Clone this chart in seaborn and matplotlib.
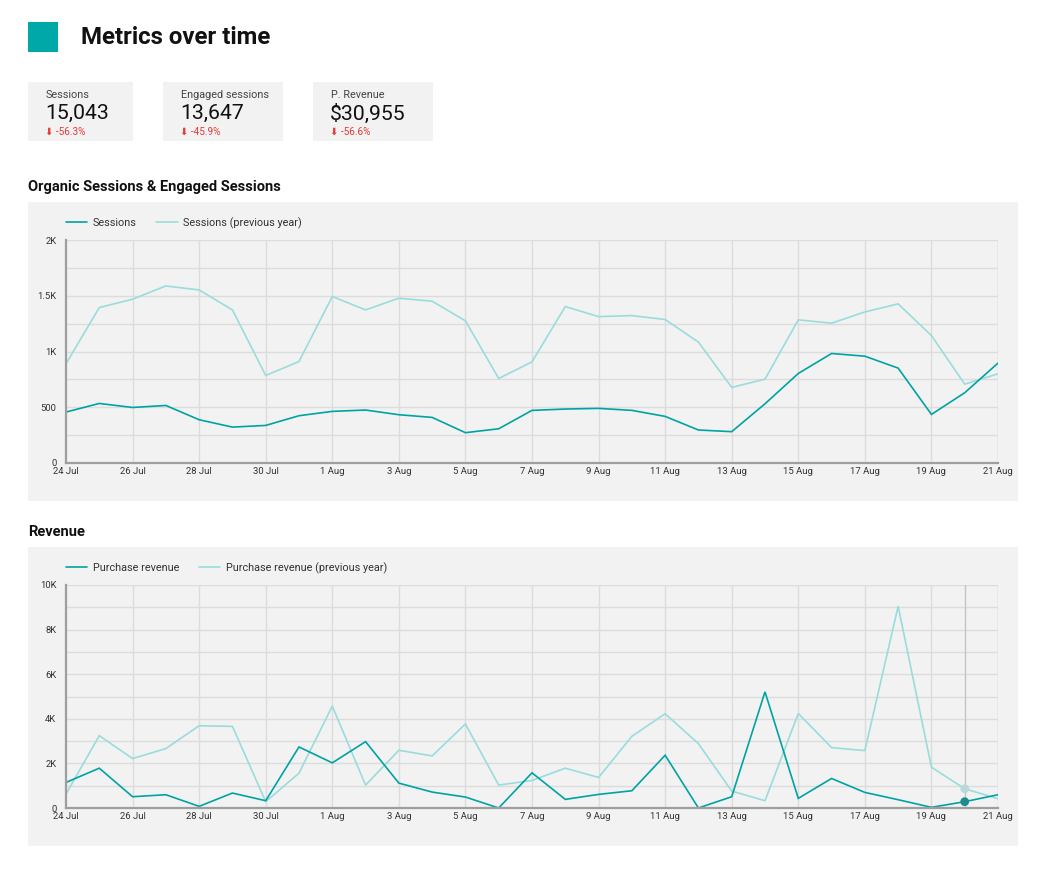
import pandas as pd
import matplotlib
matplotlib.use("Agg")
import matplotlib.pyplot as plt
from matplotlib.patches import Rectangle
import seaborn as sns

# ---- data ----
dates = pd.date_range("2023-07-24", "2023-08-21", freq="D")
sessions = [457, 534, 498, 516, 388, 322, 337, 424, 463, 475, 433, 409, 272, 307,
            472, 484, 490, 472, 418, 296, 281, 531, 803, 982, 958, 851, 436, 630, 896]
sessions_prev = [890, 1394, 1469, 1588, 1552, 1373, 785, 910, 1493, 1373, 1478, 1451, 1275, 758,
                 907, 1403, 1313, 1322, 1287, 1084, 678, 752, 1284, 1254, 1355, 1427, 1143, 707, 800]
revenue = [1146, 1786, 506, 595, 74, 670, 327, 2738, 2024, 2976, 1116, 714, 491, 0,
           1577, 387, 610, 774, 2366, 0, 506, 5208, 432, 1324, 699, 372, 30, 283, 595]
revenue_prev = [625, 3244, 2217, 2664, 3690, 3661, 283, 1563, 4568, 1027, 2589, 2336, 3765, 1027,
                1235, 1786, 1369, 3214, 4226, 2887, 759, 327, 4241, 2708, 2574, 9048, 1830, 863, 417]
hover_day = 27  # tooltip position in the revenue chart (20 Aug)

card_labels = ["Sessions", "Engaged sessions", "P. Revenue"]
card_values = ["15,043", "13,647", "$30,955"]
card_deltas = ["-56.3%", "-45.9%", "-56.6%"]

TEAL = "#00a3a3"
LIGHT = "#9adcdc"
PANEL = "#f2f2f2"
RED = "#e53935"

sns.set_theme(style="white")
plt.rcParams["font.family"] = ["Roboto", "DejaVu Sans"]

W, H = 1059, 874
fig = plt.figure(figsize=(W / 100, H / 100), dpi=100)


def fx(px):
    return px / W


def fy(py):
    return 1 - py / H


def box(x0, y0, x1, y1, color):
    fig.add_artist(Rectangle((fx(x0), fy(y1)), fx(x1 - x0), (y1 - y0) / H,
                             transform=fig.transFigure, facecolor=color,
                             edgecolor="none", zorder=0))


# header
box(28, 22, 58, 52, "#00a8a8")
fig.text(fx(81), fy(37), "Metrics over time", fontsize=17.3, fontweight="bold",
         va="center", ha="left", color="#111111")

# score cards
card_x = [(28, 133), (163, 283), (313, 433)]
for (x0, x1), lab, val, dl in zip(card_x, card_labels, card_values, card_deltas):
    box(x0, 82, x1, 141, PANEL)
    fig.text(fx(x0 + 18), fy(94.5), lab, fontsize=7.8, color="#444444", va="center")
    fig.text(fx(x0 + 17), fy(113.5), val, fontsize=15.3, color="#111111", va="center")
    fig.text(fx(x0 + 17), fy(132), "\u2b07 " + dl, fontsize=7.2, color=RED, va="center",
             family=["Roboto", "DejaVu Sans"])


def make_chart(top_px, title, v_cur, v_prev, names, ymax, ystep_grid, yticks, ylabels,
               hover=None):
    title_y = top_px - 15
    fig.text(fx(28), fy(title_y), title, fontsize=10.5, fontweight="bold",
             va="center", color="#111111")
    box(28, top_px, 1018, top_px + 299, PANEL)

    ax_top = top_px + 38
    ax_bot = top_px + 261
    ax = fig.add_axes([fx(66), fy(ax_bot), fx(998 - 66), (ax_bot - ax_top) / H])
    ax.set_facecolor("none")

    idx = list(range(len(dates)))
    df = pd.DataFrame({
        "day": idx * 2,
        "value": list(v_cur) + list(v_prev),
        "series": [names[0]] * len(idx) + [names[1]] * len(idx),
    })
    sns.lineplot(data=df, x="day", y="value", hue="series", ax=ax,
                 palette={names[0]: TEAL, names[1]: LIGHT}, linewidth=1.2,
                 hue_order=[names[1], names[0]], legend=False)
    for line in ax.lines:
        line.set_solid_joinstyle("miter")

    ax.set_xlim(0, len(idx) - 1)
    ax.set_ylim(0, ymax)
    # horizontal grid
    for g in range(0, int(ymax) + 1, ystep_grid):
        if g > 0:
            ax.axhline(g, color="#dcdcdc", linewidth=1, zorder=0)
    xt = idx[::2]
    for x in xt[1:] + [idx[-1]]:
        ax.axvline(x, color="#dcdcdc", linewidth=1, zorder=0)

    if hover is not None:
        ax.axvline(hover, color="#c4c4c4", linewidth=1, zorder=1)
        ax.scatter([hover], [v_prev[hover]], s=40, color="#b9d9d9", zorder=5,
                   edgecolor="none")
        ax.scatter([hover], [v_cur[hover]], s=40, color="#1f8c8c", zorder=5,
                   edgecolor="none")

    ax.set_xticks(xt)
    ax.set_xticklabels([f"{d.day} {d.strftime('%b')}" for d in dates[::2]])
    ax.set_yticks(yticks)
    ax.set_yticklabels(ylabels)
    ax.tick_params(axis="both", length=0, labelsize=6.8, colors="#333333")
    ax.tick_params(axis="x", pad=3)
    ax.tick_params(axis="y", pad=7)
    for s in ["top", "right"]:
        ax.spines[s].set_visible(False)
    for s in ["left", "bottom"]:
        ax.spines[s].set_color("#9e9e9e")
        ax.spines[s].set_linewidth(1.6)
    ax.set_xlabel("")
    ax.set_ylabel("")

    # legend
    leg_y = top_px + 21
    handles = [plt.Line2D([], [], color=TEAL, linewidth=1.2),
               plt.Line2D([], [], color=LIGHT, linewidth=1.2)]
    ax.legend(handles, names, loc="center left", bbox_to_anchor=(fx(56), fy(leg_y)),
              bbox_transform=fig.transFigure, ncol=2, frameon=False, fontsize=7.8,
              handlelength=2.0, handletextpad=0.5, columnspacing=1.8,
              labelcolor="#333333")
    return ax


make_chart(202, "Organic Sessions & Engaged Sessions", sessions, sessions_prev,
           ["Sessions", "Sessions (previous year)"], 2000, 250,
           [0, 500, 1000, 1500, 2000], ["0", "500", "1K", "1.5K", "2K"])
make_chart(547, "Revenue", revenue, revenue_prev,
           ["Purchase revenue", "Purchase revenue (previous year)"], 10000, 1000,
           [0, 2000, 4000, 6000, 8000, 10000], ["0", "2K", "4K", "6K", "8K", "10K"],
           hover=hover_day)

fig.savefig("out.png", dpi=100, facecolor="white")
